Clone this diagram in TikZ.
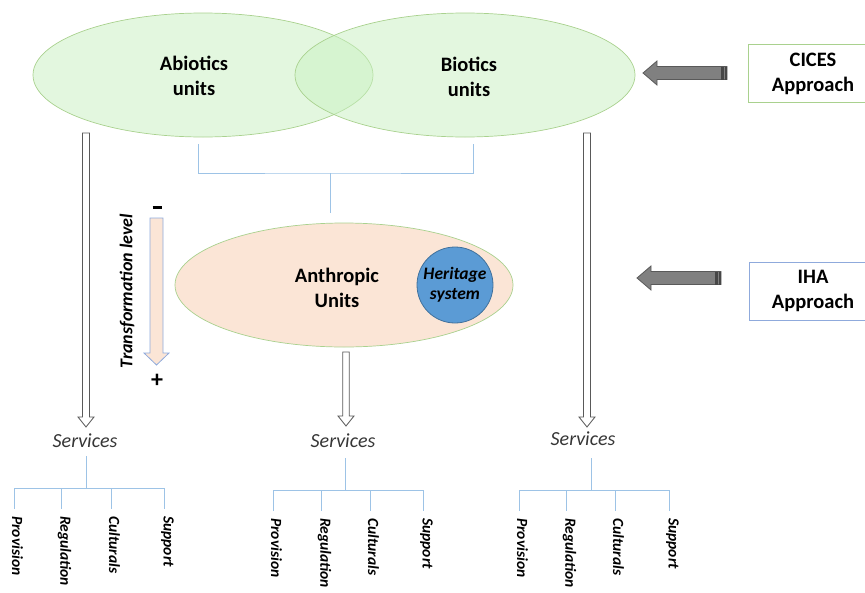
\documentclass[tikz,border=0pt]{standalone}
\usepackage{fontspec}
\setmainfont{Carlito}
\usetikzlibrary{shapes.geometric,calc}
\definecolor{greenfill}{HTML}{C8F0C0}
\definecolor{greenline}{HTML}{A9D18E}
\definecolor{peach}{HTML}{FBE5D6}
\definecolor{linkblue}{HTML}{9DC3E6}
\definecolor{arrowblue}{HTML}{8FAADC}
\definecolor{herit}{HTML}{5B9BD5}
\definecolor{heritline}{HTML}{41719C}
\definecolor{darkgray}{HTML}{595959}
\definecolor{midgray}{HTML}{808080}
\definecolor{servgray}{HTML}{363636}
\newcommand\vblockarrow[5]{% style, x, ytop, ytip, half shaft
  \draw[#1] (#2-#5,#3) -- (#2+#5,#3) -- (#2+#5,#4-10) -- (#2+8,#4-10) -- (#2,#4) -- (#2-8,#4-10) -- (#2-#5,#4-10) -- cycle;}
\newcommand\hgrayarrow[3]{% xtip, y, xtail
  \draw[grayarrow] (#1,#2) -- (#1+14,#2-12) -- (#1+14,#2-6.5) -- (#3,#2-6.5) -- (#3,#2+6.5) -- (#1+14,#2+6.5) -- (#1+14,#2+12) -- cycle;
  \fill[darkgray!80!black] (#3-6,#2-6.5) rectangle (#3-3.5,#2+6.5);
  \fill[darkgray!80!black] (#3-2.5,#2-6.5) rectangle (#3,#2+6.5);}
\tikzset{
  unit/.style={ellipse, draw=greenline, line width=0.7pt, fill=greenfill, fill opacity=0.5, minimum width=340pt, minimum height=124pt, inner sep=0pt},
  bigtxt/.style={font=\fontsize{20.5}{25}\selectfont\bfseries, align=center, text=black},
  servtxt/.style={font=\fontsize{20}{24}\selectfont\itshape, text=servgray},
  leaftxt/.style={font=\fontsize{15.5}{18}\selectfont\bfseries\itshape, rotate=-90, anchor=west, inner sep=0pt},
  link/.style={draw=linkblue, line width=1pt},
  whitearrow/.style={draw=darkgray, fill=white, line width=0.8pt},
  grayarrow/.style={draw=darkgray, fill=midgray, line width=0.8pt},
  apbox/.style={draw, line width=1pt, fill=white, minimum width=130pt, minimum height=58pt, inner sep=0pt}
}
\begin{document}
\begin{tikzpicture}[x=1pt,y=-1pt]
\useasboundingbox (0,0) rectangle (865,592);
\clip (0,0) rectangle (865,592);
% top units
\node[unit] (abio) at (203,75) {};
\node[unit] (bio) at (465,75) {};
\node[bigtxt] (abiot) at (194,76) {Abiotics\\units};
\node[bigtxt] (biot) at (469,77) {Biotics\\units};
% bracket
\coordinate (bl) at (198,144);
\coordinate (br) at (473,144);
\coordinate (bm) at (330,173);
\coordinate (bs) at (330,213);
\draw[link] (bl) |- (bm) -| (br);
\draw[link] (bm) -- (bs);
% anthropic
\node[ellipse, draw=greenline, line width=0.7pt, fill=peach, minimum width=338pt, minimum height=124pt, inner sep=0pt] (anth) at (344,285) {};
\node[bigtxt] (antht) at (337,288) {Anthropic\\Units};
\node[circle, draw=heritline, line width=0.8pt, fill=herit, minimum size=76pt, inner sep=0pt, align=center,
      font=\fontsize{17.5}{20}\selectfont\bfseries\itshape] (herit) at (455,285) {Heritage\\system};
% transformation level
\draw[draw=arrowblue, fill=peach, line width=0.8pt] (150,218) -- (163,218) -- (163,353) -- (169,353) -- (156.5,365) -- (144,353) -- (150,353) -- cycle;
\node[inner sep=0pt] (minus) at (157,207) {\rule{9pt}{3pt}};
\node[font=\fontsize{24}{26}\selectfont\bfseries] (plus) at (157,381) {+};
\node[font=\fontsize{18}{22}\selectfont\bfseries\itshape, rotate=90] (tl) at (127,291) {Transformation level};
% down arrows
\vblockarrow{whitearrow}{86}{133}{427}{3.5}
\vblockarrow{whitearrow}{346}{352}{426}{3.2}
\vblockarrow{whitearrow}{587}{133}{427}{3.5}
% services
\node[servtxt] (s1) at (85,441) {Services};
\node[servtxt] (s2) at (343,441) {Services};
\node[servtxt] (s3) at (583,439) {Services};
% trees
\foreach \n/\sx/\a/\b/\c/\d/\yt/\yh in {1/86/14/61/111/164/456/488, 2/345/273/321/370/423/458/490, 3/591/519/566/615/669/458/490}{
  \coordinate (t\n) at (\sx,\yt);
  \coordinate (h\n) at (\sx,\yh);
  \draw[link] (t\n) -- (h\n);
  \draw[link] (\a,\yh) -- (\d,\yh);
  \foreach \lx/\lab in {\a/Provision, \b/Regulation, \c/Culturals, \d/Support}{
    \draw[link] (\lx,\yh) -- (\lx,\yh+21);
    \node[leaftxt] at (\lx+3.5,\yh+28) {\lab};
  }
}
% approaches
\hgrayarrow{643}{73}{727}
\hgrayarrow{637}{278}{721}
\node[apbox, draw=greenline] (cices) at (813,73.5) {};
\node[bigtxt] at (813,73.5) {CICES\\Approach};
\node[apbox, draw=arrowblue] (iha) at (814,291) {};
\node[bigtxt] at (813,291) {IHA\\Approach};
\end{tikzpicture}
\end{document}
